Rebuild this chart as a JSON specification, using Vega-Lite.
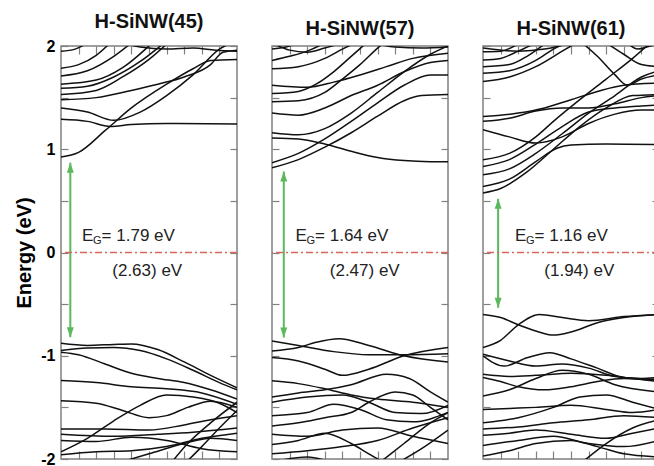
{
"$schema": "https://vega.github.io/schema/vega-lite/v6.json",
"background": "white",
"padding": {"left": 14, "top": 11, "right": 0, "bottom": 0},
"spacing": 31,
"datasets": {
"b": [
{"p":1,"n":"c1","k":0,"e":0.925},{"p":1,"n":"c1","k":0.1,"e":0.97},{"p":1,"n":"c1","k":0.25,"e":1.18},{"p":1,"n":"c1","k":0.4,"e":1.4},{"p":1,"n":"c1","k":0.6,"e":1.63},{"p":1,"n":"c1","k":0.75,"e":1.78},{"p":1,"n":"c1","k":0.85,"e":1.86},{"p":1,"n":"c1","k":1,"e":1.87},
{"p":1,"n":"c2","k":0,"e":1.29},{"p":1,"n":"c2","k":0.15,"e":1.27},{"p":1,"n":"c2","k":0.28,"e":1.22},{"p":1,"n":"c2","k":0.4,"e":1.24},{"p":1,"n":"c2","k":0.6,"e":1.25},{"p":1,"n":"c2","k":1,"e":1.245},
{"p":1,"n":"c3","k":0,"e":1.4},{"p":1,"n":"c3","k":0.15,"e":1.36},{"p":1,"n":"c3","k":0.3,"e":1.28},{"p":1,"n":"c3","k":0.45,"e":1.36},{"p":1,"n":"c3","k":0.6,"e":1.52},{"p":1,"n":"c3","k":0.75,"e":1.72},{"p":1,"n":"c3","k":0.9,"e":1.97},{"p":1,"n":"c3","k":1,"e":2.05},
{"p":1,"n":"c4","k":0,"e":1.48},{"p":1,"n":"c4","k":0.2,"e":1.5},{"p":1,"n":"c4","k":0.4,"e":1.57},{"p":1,"n":"c4","k":0.55,"e":1.63},{"p":1,"n":"c4","k":0.7,"e":1.7},{"p":1,"n":"c4","k":0.85,"e":1.82},{"p":1,"n":"c4","k":0.92,"e":1.94},{"p":1,"n":"c4","k":1,"e":1.96},
{"p":1,"n":"c5","k":0,"e":1.53},{"p":1,"n":"c5","k":0.2,"e":1.57},{"p":1,"n":"c5","k":0.35,"e":1.7},{"p":1,"n":"c5","k":0.5,"e":1.87},{"p":1,"n":"c5","k":0.62,"e":2.05},
{"p":1,"n":"c6","k":0,"e":1.59},{"p":1,"n":"c6","k":0.15,"e":1.61},{"p":1,"n":"c6","k":0.3,"e":1.7},{"p":1,"n":"c6","k":0.45,"e":1.85},{"p":1,"n":"c6","k":0.55,"e":1.98},{"p":1,"n":"c6","k":0.6,"e":2.05},
{"p":1,"n":"c7","k":0,"e":1.63},{"p":1,"n":"c7","k":0.2,"e":1.67},{"p":1,"n":"c7","k":0.35,"e":1.79},{"p":1,"n":"c7","k":0.48,"e":1.97},{"p":1,"n":"c7","k":0.53,"e":2.05},
{"p":1,"n":"c8","k":0,"e":1.71},{"p":1,"n":"c8","k":0.15,"e":1.76},{"p":1,"n":"c8","k":0.3,"e":1.9},{"p":1,"n":"c8","k":0.4,"e":2.03},
{"p":1,"n":"c9","k":0,"e":1.785},{"p":1,"n":"c9","k":0.1,"e":1.82},{"p":1,"n":"c9","k":0.2,"e":1.91},{"p":1,"n":"c9","k":0.28,"e":2.03},
{"p":1,"n":"c10","k":0,"e":1.95},{"p":1,"n":"c10","k":0.08,"e":1.97},{"p":1,"n":"c10","k":0.15,"e":2.03},
{"p":1,"n":"c11","k":0.3,"e":2.05},{"p":1,"n":"c11","k":0.45,"e":1.99},{"p":1,"n":"c11","k":0.6,"e":1.97},{"p":1,"n":"c11","k":0.75,"e":1.98},{"p":1,"n":"c11","k":0.88,"e":1.96},{"p":1,"n":"c11","k":1,"e":1.95},
{"p":1,"n":"v1","k":0,"e":-0.88},{"p":1,"n":"v1","k":0.15,"e":-0.9},{"p":1,"n":"v1","k":0.3,"e":-0.89},{"p":1,"n":"v1","k":0.4,"e":-0.885},{"p":1,"n":"v1","k":0.55,"e":-0.94},{"p":1,"n":"v1","k":0.7,"e":-1.06},{"p":1,"n":"v1","k":0.85,"e":-1.19},{"p":1,"n":"v1","k":1,"e":-1.31},
{"p":1,"n":"v2","k":0,"e":-0.95},{"p":1,"n":"v2","k":0.15,"e":-0.925},{"p":1,"n":"v2","k":0.3,"e":-0.92},{"p":1,"n":"v2","k":0.45,"e":-0.95},{"p":1,"n":"v2","k":0.6,"e":-1.03},{"p":1,"n":"v2","k":0.75,"e":-1.14},{"p":1,"n":"v2","k":0.9,"e":-1.26},{"p":1,"n":"v2","k":1,"e":-1.33},
{"p":1,"n":"v3","k":0,"e":-0.965},{"p":1,"n":"v3","k":0.1,"e":-0.99},{"p":1,"n":"v3","k":0.25,"e":-1.08},{"p":1,"n":"v3","k":0.4,"e":-1.17},{"p":1,"n":"v3","k":0.55,"e":-1.22},{"p":1,"n":"v3","k":0.7,"e":-1.26},{"p":1,"n":"v3","k":0.85,"e":-1.33},{"p":1,"n":"v3","k":1,"e":-1.42},
{"p":1,"n":"v4","k":0,"e":-1.24},{"p":1,"n":"v4","k":0.2,"e":-1.26},{"p":1,"n":"v4","k":0.4,"e":-1.3},{"p":1,"n":"v4","k":0.6,"e":-1.32},{"p":1,"n":"v4","k":0.8,"e":-1.36},{"p":1,"n":"v4","k":1,"e":-1.47},
{"p":1,"n":"v5","k":0,"e":-1.437},{"p":1,"n":"v5","k":0.2,"e":-1.46},{"p":1,"n":"v5","k":0.35,"e":-1.53},{"p":1,"n":"v5","k":0.5,"e":-1.6},{"p":1,"n":"v5","k":0.6,"e":-1.58},{"p":1,"n":"v5","k":0.72,"e":-1.5},{"p":1,"n":"v5","k":0.85,"e":-1.44},{"p":1,"n":"v5","k":1,"e":-1.5},
{"p":1,"n":"v6","k":0,"e":-1.93},{"p":1,"n":"v6","k":0.15,"e":-1.8},{"p":1,"n":"v6","k":0.3,"e":-1.63},{"p":1,"n":"v6","k":0.45,"e":-1.48},{"p":1,"n":"v6","k":0.6,"e":-1.38},{"p":1,"n":"v6","k":0.75,"e":-1.4},{"p":1,"n":"v6","k":0.9,"e":-1.46},{"p":1,"n":"v6","k":1,"e":-1.55},
{"p":1,"n":"v7","k":0,"e":-1.71},{"p":1,"n":"v7","k":0.25,"e":-1.71},{"p":1,"n":"v7","k":0.5,"e":-1.72},{"p":1,"n":"v7","k":0.7,"e":-1.67},{"p":1,"n":"v7","k":0.85,"e":-1.62},{"p":1,"n":"v7","k":1,"e":-1.58},
{"p":1,"n":"v8","k":0,"e":-1.76},{"p":1,"n":"v8","k":0.3,"e":-1.78},{"p":1,"n":"v8","k":0.55,"e":-1.76},{"p":1,"n":"v8","k":0.75,"e":-1.74},{"p":1,"n":"v8","k":1,"e":-1.7},
{"p":1,"n":"v9","k":0,"e":-1.82},{"p":1,"n":"v9","k":0.2,"e":-1.83},{"p":1,"n":"v9","k":0.4,"e":-1.79},{"p":1,"n":"v9","k":0.6,"e":-1.82},{"p":1,"n":"v9","k":0.8,"e":-1.9},{"p":1,"n":"v9","k":1,"e":-1.93},
{"p":1,"n":"v10","k":0,"e":-1.96},{"p":1,"n":"v10","k":0.2,"e":-1.93},{"p":1,"n":"v10","k":0.4,"e":-1.92},{"p":1,"n":"v10","k":0.6,"e":-1.88},{"p":1,"n":"v10","k":0.8,"e":-1.8},{"p":1,"n":"v10","k":1,"e":-1.75},
{"p":1,"n":"v11","k":0.62,"e":-2.05},{"p":1,"n":"v11","k":0.72,"e":-1.85},{"p":1,"n":"v11","k":0.85,"e":-1.65},{"p":1,"n":"v11","k":1,"e":-1.45},
{"p":1,"n":"v12","k":0.7,"e":-2.05},{"p":1,"n":"v12","k":0.8,"e":-1.88},{"p":1,"n":"v12","k":0.9,"e":-1.7},{"p":1,"n":"v12","k":1,"e":-1.53},
{"p":1,"n":"v13","k":0.3,"e":-2.05},{"p":1,"n":"v13","k":0.5,"e":-1.95},{"p":1,"n":"v13","k":0.7,"e":-1.85},{"p":1,"n":"v13","k":0.85,"e":-1.8},{"p":1,"n":"v13","k":1,"e":-1.82},

{"p":2,"n":"c1","k":0,"e":0.82},{"p":2,"n":"c1","k":0.15,"e":0.9},{"p":2,"n":"c1","k":0.3,"e":1.02},{"p":2,"n":"c1","k":0.45,"e":1.16},{"p":2,"n":"c1","k":0.6,"e":1.32},{"p":2,"n":"c1","k":0.75,"e":1.47},{"p":2,"n":"c1","k":0.85,"e":1.52},{"p":2,"n":"c1","k":1,"e":1.53},
{"p":2,"n":"c2","k":0,"e":0.87},{"p":2,"n":"c2","k":0.15,"e":0.96},{"p":2,"n":"c2","k":0.3,"e":1.1},{"p":2,"n":"c2","k":0.45,"e":1.27},{"p":2,"n":"c2","k":0.6,"e":1.45},{"p":2,"n":"c2","k":0.75,"e":1.62},{"p":2,"n":"c2","k":0.9,"e":1.72},{"p":2,"n":"c2","k":1,"e":1.72},
{"p":2,"n":"c3","k":0,"e":1.11},{"p":2,"n":"c3","k":0.15,"e":1.1},{"p":2,"n":"c3","k":0.3,"e":1.05},{"p":2,"n":"c3","k":0.45,"e":0.98},{"p":2,"n":"c3","k":0.6,"e":0.92},{"p":2,"n":"c3","k":0.75,"e":0.89},{"p":2,"n":"c3","k":0.9,"e":0.88},{"p":2,"n":"c3","k":1,"e":0.88},
{"p":2,"n":"c4","k":0,"e":1.16},{"p":2,"n":"c4","k":0.15,"e":1.14},{"p":2,"n":"c4","k":0.3,"e":1.2},{"p":2,"n":"c4","k":0.45,"e":1.35},{"p":2,"n":"c4","k":0.6,"e":1.55},{"p":2,"n":"c4","k":0.75,"e":1.75},{"p":2,"n":"c4","k":0.9,"e":1.92},{"p":2,"n":"c4","k":1,"e":2.0},
{"p":2,"n":"c5","k":0,"e":1.35},{"p":2,"n":"c5","k":0.15,"e":1.33},{"p":2,"n":"c5","k":0.3,"e":1.4},{"p":2,"n":"c5","k":0.45,"e":1.52},{"p":2,"n":"c5","k":0.6,"e":1.62},{"p":2,"n":"c5","k":0.75,"e":1.75},{"p":2,"n":"c5","k":0.9,"e":1.84},{"p":2,"n":"c5","k":1,"e":1.86},
{"p":2,"n":"c6","k":0,"e":1.46},{"p":2,"n":"c6","k":0.15,"e":1.47},{"p":2,"n":"c6","k":0.3,"e":1.55},{"p":2,"n":"c6","k":0.4,"e":1.68},{"p":2,"n":"c6","k":0.5,"e":1.82},{"p":2,"n":"c6","k":0.6,"e":1.98},{"p":2,"n":"c6","k":0.65,"e":2.05},
{"p":2,"n":"c7","k":0,"e":1.54},{"p":2,"n":"c7","k":0.15,"e":1.56},{"p":2,"n":"c7","k":0.25,"e":1.63},{"p":2,"n":"c7","k":0.35,"e":1.75},{"p":2,"n":"c7","k":0.45,"e":1.9},{"p":2,"n":"c7","k":0.55,"e":2.05},
{"p":2,"n":"c8","k":0,"e":1.62},{"p":2,"n":"c8","k":0.2,"e":1.6},{"p":2,"n":"c8","k":0.35,"e":1.65},{"p":2,"n":"c8","k":0.5,"e":1.72},{"p":2,"n":"c8","k":0.65,"e":1.8},{"p":2,"n":"c8","k":0.8,"e":1.88},{"p":2,"n":"c8","k":1,"e":1.93},
{"p":2,"n":"c9","k":0,"e":1.78},{"p":2,"n":"c9","k":0.15,"e":1.8},{"p":2,"n":"c9","k":0.3,"e":1.88},{"p":2,"n":"c9","k":0.4,"e":1.97},{"p":2,"n":"c9","k":0.5,"e":2.05},
{"p":2,"n":"c10","k":0,"e":1.86},{"p":2,"n":"c10","k":0.1,"e":1.9},{"p":2,"n":"c10","k":0.2,"e":1.95},{"p":2,"n":"c10","k":0.3,"e":2.03},
{"p":2,"n":"c11","k":0,"e":1.97},{"p":2,"n":"c11","k":0.08,"e":1.99},{"p":2,"n":"c11","k":0.15,"e":2.03},
{"p":2,"n":"c12","k":0,"e":2.03},{"p":2,"n":"c12","k":0.1,"e":1.96},{"p":2,"n":"c12","k":0.2,"e":1.94},{"p":2,"n":"c12","k":0.3,"e":1.98},{"p":2,"n":"c12","k":0.4,"e":2.03},
{"p":2,"n":"c13","k":0.55,"e":2.04},{"p":2,"n":"c13","k":0.7,"e":1.99},{"p":2,"n":"c13","k":0.85,"e":1.98},{"p":2,"n":"c13","k":1,"e":1.99},
{"p":2,"n":"v1","k":0,"e":-0.856},{"p":2,"n":"v1","k":0.15,"e":-0.9},{"p":2,"n":"v1","k":0.35,"e":-0.96},{"p":2,"n":"v1","k":0.55,"e":-0.99},{"p":2,"n":"v1","k":0.75,"e":-0.99},{"p":2,"n":"v1","k":1,"e":-0.98},
{"p":2,"n":"v2","k":0,"e":-0.953},{"p":2,"n":"v2","k":0.15,"e":-0.92},{"p":2,"n":"v2","k":0.25,"e":-0.87},{"p":2,"n":"v2","k":0.38,"e":-0.835},{"p":2,"n":"v2","k":0.55,"e":-0.9},{"p":2,"n":"v2","k":0.75,"e":-1.0},{"p":2,"n":"v2","k":1,"e":-1.06},
{"p":2,"n":"v3","k":0,"e":-1.017},{"p":2,"n":"v3","k":0.15,"e":-1.05},{"p":2,"n":"v3","k":0.3,"e":-1.13},{"p":2,"n":"v3","k":0.4,"e":-1.19},{"p":2,"n":"v3","k":0.55,"e":-1.13},{"p":2,"n":"v3","k":0.75,"e":-1.0},{"p":2,"n":"v3","k":1,"e":-0.92},
{"p":2,"n":"v4","k":0,"e":-1.243},{"p":2,"n":"v4","k":0.15,"e":-1.27},{"p":2,"n":"v4","k":0.3,"e":-1.32},{"p":2,"n":"v4","k":0.45,"e":-1.38},{"p":2,"n":"v4","k":0.6,"e":-1.42},{"p":2,"n":"v4","k":0.8,"e":-1.45},{"p":2,"n":"v4","k":1,"e":-1.5},
{"p":2,"n":"v5","k":0,"e":-1.4},{"p":2,"n":"v5","k":0.15,"e":-1.36},{"p":2,"n":"v5","k":0.3,"e":-1.33},{"p":2,"n":"v5","k":0.45,"e":-1.28},{"p":2,"n":"v5","k":0.65,"e":-1.18},{"p":2,"n":"v5","k":0.78,"e":-1.22},{"p":2,"n":"v5","k":0.9,"e":-1.35},{"p":2,"n":"v5","k":1,"e":-1.45},
{"p":2,"n":"v6","k":0,"e":-1.45},{"p":2,"n":"v6","k":0.2,"e":-1.4},{"p":2,"n":"v6","k":0.4,"e":-1.38},{"p":2,"n":"v6","k":0.55,"e":-1.45},{"p":2,"n":"v6","k":0.7,"e":-1.55},{"p":2,"n":"v6","k":0.85,"e":-1.56},{"p":2,"n":"v6","k":1,"e":-1.48},
{"p":2,"n":"v7","k":0,"e":-1.58},{"p":2,"n":"v7","k":0.2,"e":-1.55},{"p":2,"n":"v7","k":0.35,"e":-1.47},{"p":2,"n":"v7","k":0.5,"e":-1.52},{"p":2,"n":"v7","k":0.65,"e":-1.62},{"p":2,"n":"v7","k":0.8,"e":-1.64},{"p":2,"n":"v7","k":1,"e":-1.55},
{"p":2,"n":"v8","k":0,"e":-1.68},{"p":2,"n":"v8","k":0.15,"e":-1.65},{"p":2,"n":"v8","k":0.3,"e":-1.6},{"p":2,"n":"v8","k":0.45,"e":-1.55},{"p":2,"n":"v8","k":0.55,"e":-1.45},{"p":2,"n":"v8","k":0.7,"e":-1.35},{"p":2,"n":"v8","k":0.8,"e":-1.38},{"p":2,"n":"v8","k":0.9,"e":-1.5},{"p":2,"n":"v8","k":1,"e":-1.62},
{"p":2,"n":"v9","k":0,"e":-1.76},{"p":2,"n":"v9","k":0.2,"e":-1.78},{"p":2,"n":"v9","k":0.4,"e":-1.72},{"p":2,"n":"v9","k":0.6,"e":-1.7},{"p":2,"n":"v9","k":0.8,"e":-1.78},{"p":2,"n":"v9","k":1,"e":-1.85},
{"p":2,"n":"v10","k":0,"e":-1.86},{"p":2,"n":"v10","k":0.15,"e":-1.82},{"p":2,"n":"v10","k":0.3,"e":-1.75},{"p":2,"n":"v10","k":0.45,"e":-1.85},{"p":2,"n":"v10","k":0.55,"e":-1.95},{"p":2,"n":"v10","k":0.65,"e":-2.05},
{"p":2,"n":"v11","k":0,"e":-1.95},{"p":2,"n":"v11","k":0.2,"e":-1.92},{"p":2,"n":"v11","k":0.4,"e":-1.88},{"p":2,"n":"v11","k":0.6,"e":-1.82},{"p":2,"n":"v11","k":0.8,"e":-1.7},{"p":2,"n":"v11","k":1,"e":-1.6},
{"p":2,"n":"v12","k":0.6,"e":-2.05},{"p":2,"n":"v12","k":0.75,"e":-1.85},{"p":2,"n":"v12","k":0.9,"e":-1.65},{"p":2,"n":"v12","k":1,"e":-1.55},
{"p":2,"n":"v13","k":0.7,"e":-2.05},{"p":2,"n":"v13","k":0.85,"e":-1.9},{"p":2,"n":"v13","k":1,"e":-1.72},
{"p":2,"n":"v14","k":0,"e":-2.03},{"p":2,"n":"v14","k":0.2,"e":-1.98},{"p":2,"n":"v14","k":0.35,"e":-2.04},

{"p":3,"n":"c1","k":0,"e":0.577},{"p":3,"n":"c1","k":0.1,"e":0.62},{"p":3,"n":"c1","k":0.25,"e":0.78},{"p":3,"n":"c1","k":0.4,"e":1.0},{"p":3,"n":"c1","k":0.55,"e":1.22},{"p":3,"n":"c1","k":0.7,"e":1.4},{"p":3,"n":"c1","k":0.85,"e":1.52},{"p":3,"n":"c1","k":1,"e":1.53},
{"p":3,"n":"c2","k":0,"e":0.64},{"p":3,"n":"c2","k":0.15,"e":0.71},{"p":3,"n":"c2","k":0.3,"e":0.88},{"p":3,"n":"c2","k":0.42,"e":1.01},{"p":3,"n":"c2","k":0.5,"e":1.04},{"p":3,"n":"c2","k":0.7,"e":1.05},{"p":3,"n":"c2","k":1,"e":1.044},
{"p":3,"n":"c3","k":0,"e":0.753},{"p":3,"n":"c3","k":0.15,"e":0.81},{"p":3,"n":"c3","k":0.3,"e":0.96},{"p":3,"n":"c3","k":0.45,"e":1.15},{"p":3,"n":"c3","k":0.6,"e":1.35},{"p":3,"n":"c3","k":0.75,"e":1.52},{"p":3,"n":"c3","k":0.9,"e":1.7},{"p":3,"n":"c3","k":1,"e":1.76},
{"p":3,"n":"c4","k":0,"e":0.834},{"p":3,"n":"c4","k":0.15,"e":0.9},{"p":3,"n":"c4","k":0.3,"e":1.05},{"p":3,"n":"c4","k":0.45,"e":1.22},{"p":3,"n":"c4","k":0.6,"e":1.36},{"p":3,"n":"c4","k":0.75,"e":1.4},{"p":3,"n":"c4","k":0.9,"e":1.42},{"p":3,"n":"c4","k":1,"e":1.43},
{"p":3,"n":"c5","k":0,"e":0.898},{"p":3,"n":"c5","k":0.15,"e":0.96},{"p":3,"n":"c5","k":0.3,"e":1.12},{"p":3,"n":"c5","k":0.4,"e":1.27},{"p":3,"n":"c5","k":0.55,"e":1.48},{"p":3,"n":"c5","k":0.7,"e":1.68},{"p":3,"n":"c5","k":0.85,"e":1.88},{"p":3,"n":"c5","k":0.95,"e":2.03},
{"p":3,"n":"c6","k":0,"e":1.19},{"p":3,"n":"c6","k":0.15,"e":1.12},{"p":3,"n":"c6","k":0.3,"e":1.06},{"p":3,"n":"c6","k":0.45,"e":1.12},{"p":3,"n":"c6","k":0.6,"e":1.25},{"p":3,"n":"c6","k":0.75,"e":1.34},{"p":3,"n":"c6","k":0.9,"e":1.38},{"p":3,"n":"c6","k":1,"e":1.38},
{"p":3,"n":"c7","k":0,"e":1.27},{"p":3,"n":"c7","k":0.15,"e":1.3},{"p":3,"n":"c7","k":0.3,"e":1.37},{"p":3,"n":"c7","k":0.45,"e":1.4},{"p":3,"n":"c7","k":0.6,"e":1.4},{"p":3,"n":"c7","k":0.75,"e":1.44},{"p":3,"n":"c7","k":0.9,"e":1.5},{"p":3,"n":"c7","k":1,"e":1.52},
{"p":3,"n":"c8","k":0,"e":1.317},{"p":3,"n":"c8","k":0.2,"e":1.35},{"p":3,"n":"c8","k":0.35,"e":1.4},{"p":3,"n":"c8","k":0.5,"e":1.48},{"p":3,"n":"c8","k":0.65,"e":1.56},{"p":3,"n":"c8","k":0.8,"e":1.62},{"p":3,"n":"c8","k":1,"e":1.64},
{"p":3,"n":"c9","k":0,"e":1.655},{"p":3,"n":"c9","k":0.15,"e":1.7},{"p":3,"n":"c9","k":0.3,"e":1.8},{"p":3,"n":"c9","k":0.45,"e":1.95},{"p":3,"n":"c9","k":0.55,"e":2.05},
{"p":3,"n":"c10","k":0,"e":1.736},{"p":3,"n":"c10","k":0.15,"e":1.76},{"p":3,"n":"c10","k":0.3,"e":1.86},{"p":3,"n":"c10","k":0.4,"e":1.97},{"p":3,"n":"c10","k":0.5,"e":2.05},
{"p":3,"n":"c11","k":0,"e":1.8},{"p":3,"n":"c11","k":0.15,"e":1.82},{"p":3,"n":"c11","k":0.25,"e":1.9},{"p":3,"n":"c11","k":0.35,"e":2.02},
{"p":3,"n":"c12","k":0,"e":1.865},{"p":3,"n":"c12","k":0.1,"e":1.88},{"p":3,"n":"c12","k":0.2,"e":1.95},{"p":3,"n":"c12","k":0.3,"e":2.03},
{"p":3,"n":"c13","k":0,"e":1.945},{"p":3,"n":"c13","k":0.1,"e":1.95},{"p":3,"n":"c13","k":0.2,"e":2.02},
{"p":3,"n":"c14","k":0.55,"e":2.05},{"p":3,"n":"c14","k":0.65,"e":1.9},{"p":3,"n":"c14","k":0.75,"e":1.72},{"p":3,"n":"c14","k":0.82,"e":1.62},{"p":3,"n":"c14","k":0.9,"e":1.68},{"p":3,"n":"c14","k":1,"e":1.72},
{"p":3,"n":"c15","k":0.7,"e":2.03},{"p":3,"n":"c15","k":0.8,"e":1.92},{"p":3,"n":"c15","k":0.9,"e":1.82},{"p":3,"n":"c15","k":1,"e":1.8},
{"p":3,"n":"c16","k":0.82,"e":2.03},{"p":3,"n":"c16","k":0.88,"e":1.97},{"p":3,"n":"c16","k":0.95,"e":2.0},{"p":3,"n":"c16","k":1,"e":2.02},
{"p":3,"n":"c17","k":0,"e":1.98},{"p":3,"n":"c17","k":0.2,"e":1.95},{"p":3,"n":"c17","k":0.35,"e":1.97},{"p":3,"n":"c17","k":0.5,"e":2.03},
{"p":3,"n":"v1","k":0,"e":-0.6},{"p":3,"n":"v1","k":0.1,"e":-0.63},{"p":3,"n":"v1","k":0.2,"e":-0.7},{"p":3,"n":"v1","k":0.3,"e":-0.76},{"p":3,"n":"v1","k":0.4,"e":-0.8},{"p":3,"n":"v1","k":0.5,"e":-0.77},{"p":3,"n":"v1","k":0.65,"e":-0.68},{"p":3,"n":"v1","k":0.8,"e":-0.63},{"p":3,"n":"v1","k":1,"e":-0.6},
{"p":3,"n":"v2","k":0,"e":-0.92},{"p":3,"n":"v2","k":0.1,"e":-0.85},{"p":3,"n":"v2","k":0.2,"e":-0.7},{"p":3,"n":"v2","k":0.32,"e":-0.6},{"p":3,"n":"v2","k":0.45,"e":-0.63},{"p":3,"n":"v2","k":0.6,"e":-0.66},{"p":3,"n":"v2","k":0.8,"e":-0.62},{"p":3,"n":"v2","k":1,"e":-0.6},
{"p":3,"n":"v3","k":0,"e":-0.985},{"p":3,"n":"v3","k":0.15,"e":-1.05},{"p":3,"n":"v3","k":0.3,"e":-1.1},{"p":3,"n":"v3","k":0.45,"e":-1.08},{"p":3,"n":"v3","k":0.6,"e":-1.12},{"p":3,"n":"v3","k":0.75,"e":-1.2},{"p":3,"n":"v3","k":0.9,"e":-1.22},{"p":3,"n":"v3","k":1,"e":-1.21},
{"p":3,"n":"v4","k":0,"e":-1.0},{"p":3,"n":"v4","k":0.12,"e":-1.1},{"p":3,"n":"v4","k":0.25,"e":-1.02},{"p":3,"n":"v4","k":0.38,"e":-0.97},{"p":3,"n":"v4","k":0.5,"e":-1.03},{"p":3,"n":"v4","k":0.65,"e":-1.12},{"p":3,"n":"v4","k":0.8,"e":-1.21},{"p":3,"n":"v4","k":1,"e":-1.23},
{"p":3,"n":"v5","k":0,"e":-1.18},{"p":3,"n":"v5","k":0.15,"e":-1.2},{"p":3,"n":"v5","k":0.3,"e":-1.19},{"p":3,"n":"v5","k":0.5,"e":-1.17},{"p":3,"n":"v5","k":0.7,"e":-1.19},{"p":3,"n":"v5","k":0.85,"e":-1.22},{"p":3,"n":"v5","k":1,"e":-1.25},
{"p":3,"n":"v6","k":0,"e":-1.21},{"p":3,"n":"v6","k":0.1,"e":-1.25},{"p":3,"n":"v6","k":0.2,"e":-1.3},{"p":3,"n":"v6","k":0.35,"e":-1.33},{"p":3,"n":"v6","k":0.5,"e":-1.3},{"p":3,"n":"v6","k":0.65,"e":-1.25},{"p":3,"n":"v6","k":0.8,"e":-1.22},{"p":3,"n":"v6","k":1,"e":-1.24},
{"p":3,"n":"v7","k":0,"e":-1.39},{"p":3,"n":"v7","k":0.15,"e":-1.33},{"p":3,"n":"v7","k":0.3,"e":-1.22},{"p":3,"n":"v7","k":0.45,"e":-1.14},{"p":3,"n":"v7","k":0.6,"e":-1.18},{"p":3,"n":"v7","k":0.75,"e":-1.28},{"p":3,"n":"v7","k":1,"e":-1.35},
{"p":3,"n":"v8","k":0,"e":-1.52},{"p":3,"n":"v8","k":0.15,"e":-1.51},{"p":3,"n":"v8","k":0.3,"e":-1.5},{"p":3,"n":"v8","k":0.5,"e":-1.48},{"p":3,"n":"v8","k":0.7,"e":-1.52},{"p":3,"n":"v8","k":0.85,"e":-1.55},{"p":3,"n":"v8","k":1,"e":-1.52},
{"p":3,"n":"v9","k":0,"e":-1.65},{"p":3,"n":"v9","k":0.2,"e":-1.6},{"p":3,"n":"v9","k":0.4,"e":-1.5},{"p":3,"n":"v9","k":0.55,"e":-1.4},{"p":3,"n":"v9","k":0.7,"e":-1.38},{"p":3,"n":"v9","k":0.85,"e":-1.45},{"p":3,"n":"v9","k":1,"e":-1.52},
{"p":3,"n":"v10","k":0,"e":-1.71},{"p":3,"n":"v10","k":0.2,"e":-1.69},{"p":3,"n":"v10","k":0.4,"e":-1.65},{"p":3,"n":"v10","k":0.6,"e":-1.62},{"p":3,"n":"v10","k":0.8,"e":-1.58},{"p":3,"n":"v10","k":1,"e":-1.6},
{"p":3,"n":"v11","k":0,"e":-1.77},{"p":3,"n":"v11","k":0.15,"e":-1.75},{"p":3,"n":"v11","k":0.3,"e":-1.72},{"p":3,"n":"v11","k":0.5,"e":-1.76},{"p":3,"n":"v11","k":0.7,"e":-1.8},{"p":3,"n":"v11","k":0.85,"e":-1.75},{"p":3,"n":"v11","k":1,"e":-1.7},
{"p":3,"n":"v12","k":0,"e":-1.87},{"p":3,"n":"v12","k":0.2,"e":-1.82},{"p":3,"n":"v12","k":0.4,"e":-1.78},{"p":3,"n":"v12","k":0.6,"e":-1.85},{"p":3,"n":"v12","k":0.8,"e":-1.88},{"p":3,"n":"v12","k":1,"e":-1.82},
{"p":3,"n":"v13","k":0,"e":-1.97},{"p":3,"n":"v13","k":0.15,"e":-1.92},{"p":3,"n":"v13","k":0.3,"e":-1.85},{"p":3,"n":"v13","k":0.5,"e":-1.82},{"p":3,"n":"v13","k":0.65,"e":-1.88},{"p":3,"n":"v13","k":0.8,"e":-1.95},{"p":3,"n":"v13","k":1,"e":-1.98},
{"p":3,"n":"v14","k":0.55,"e":-2.05},{"p":3,"n":"v14","k":0.7,"e":-1.85},{"p":3,"n":"v14","k":0.85,"e":-1.7},{"p":3,"n":"v14","k":1,"e":-1.62}
],
"a": [
{"p":1,"ax":0.053,"at":0.87,"ab":-0.82,"tx":0.12,"ty":0.155,"eg":"= 1.79 eV","px":0.49,"py":-0.18,"pt":"(2.63) eV"},
{"p":2,"ax":0.067,"at":0.785,"ab":-0.824,"tx":0.134,"ty":0.155,"eg":"= 1.64 eV","px":0.527,"py":-0.18,"pt":"(2.47) eV"},
{"p":3,"ax":0.086,"at":0.52,"ab":-0.535,"tx":0.182,"ty":0.155,"eg":"= 1.16 eV","px":0.547,"py":-0.18,"pt":"(1.94) eV"}
]
},
"hconcat": [
{"width":176,"height":413,"title":"H-SiNW(45)",
 "layer":[
  {"data":{"name":"b"},"transform":[{"filter":"datum.p==1"}],
   "mark":{"type":"line","color":"#111111","strokeWidth":1.5,"interpolate":"monotone","clip":true},
   "encoding":{
    "x":{"field":"k","type":"quantitative","scale":{"domain":[0,1],"nice":false},"axis":{"orient":"bottom","values":[0.1,0.2,0.3,0.4,0.5,0.6,0.7,0.8,0.9],"labels":false,"tickSize":-8,"title":null}},
    "y":{"field":"e","type":"quantitative","scale":{"domain":[-2,2],"nice":false},"axis":{"orient":"left","values":[-2,-1.5,-1,-0.5,0,0.5,1,1.5,2],"labelExpr":"datum.value % 1 === 0 ? '' + datum.value : ''","labelFontSize":16,"labelFontWeight":"bold","tickSize":-7,"labelPadding":13,"title":"Energy (eV)","titleFontSize":20,"titleFontWeight":"bold","titlePadding":6,"titleColor":"black"}},
    "detail":{"field":"n"}}},
  {"data":{"name":"a"},"transform":[{"filter":"datum.p==1"}],
   "mark":{"type":"rule","color":"#5cb85c","strokeWidth":2},
   "encoding":{"x":{"field":"ax","type":"quantitative","axis":{"orient":"top","values":[0.1,0.2,0.3,0.4,0.5,0.6,0.7,0.8,0.9],"labels":false,"tickSize":-8,"title":null}},
    "y":{"field":"at","type":"quantitative","axis":{"orient":"right","values":[-2,-1.5,-1,-0.5,0,0.5,1,1.5,2],"labels":false,"tickSize":-7,"title":null}},"y2":{"field":"ab"}}},
  {"data":{"name":"a"},"transform":[{"filter":"datum.p==1"}],
   "mark":{"type":"point","shape":"M0,0L0.7,2L-0.7,2Z","size":100,"filled":true,"color":"#5cb85c","opacity":1},
   "encoding":{"x":{"field":"ax","type":"quantitative","axis":null},"y":{"field":"at","type":"quantitative","axis":null}}},
  {"data":{"name":"a"},"transform":[{"filter":"datum.p==1"}],
   "mark":{"type":"point","shape":"M0,0L0.7,-2L-0.7,-2Z","size":100,"filled":true,"color":"#5cb85c","opacity":1},
   "encoding":{"x":{"field":"ax","type":"quantitative","axis":null},"y":{"field":"ab","type":"quantitative","axis":null}}},
  {"data":{"values":[{}]},"mark":{"type":"rule","color":"#d9655c","strokeDash":[7,3,2,3],"strokeWidth":1.3},"encoding":{"y":{"datum":0,"type":"quantitative","axis":null}}},
  {"data":{"name":"a"},"transform":[{"filter":"datum.p==1"}],
   "mark":{"type":"text","align":"left","baseline":"middle","fontSize":17,"font":"Liberation Sans","color":"#222"},
   "encoding":{"x":{"field":"tx","type":"quantitative","axis":null},"y":{"field":"ty","type":"quantitative","axis":null},"text":{"value":"E"}}},
  {"data":{"name":"a"},"transform":[{"filter":"datum.p==1"}],
   "mark":{"type":"text","align":"left","baseline":"middle","fontSize":11,"font":"Liberation Sans","dx":11,"dy":5,"color":"#222"},
   "encoding":{"x":{"field":"tx","type":"quantitative","axis":null},"y":{"field":"ty","type":"quantitative","axis":null},"text":{"value":"G"}}},
  {"data":{"name":"a"},"transform":[{"filter":"datum.p==1"}],
   "mark":{"type":"text","align":"left","baseline":"middle","fontSize":17,"font":"Liberation Sans","dx":19.5,"color":"#222"},
   "encoding":{"x":{"field":"tx","type":"quantitative","axis":null},"y":{"field":"ty","type":"quantitative","axis":null},"text":{"field":"eg"}}},
  {"data":{"name":"a"},"transform":[{"filter":"datum.p==1"}],
   "mark":{"type":"text","align":"center","baseline":"middle","fontSize":17,"font":"Liberation Sans","color":"#222"},
   "encoding":{"x":{"field":"px","type":"quantitative","axis":null},"y":{"field":"py","type":"quantitative","axis":null},"text":{"field":"pt"}}}
 ]},
{"width":176,"height":413,"title":"H-SiNW(57)",
 "layer":[
  {"data":{"name":"b"},"transform":[{"filter":"datum.p==2"}],
   "mark":{"type":"line","color":"#111111","strokeWidth":1.5,"interpolate":"monotone","clip":true},
   "encoding":{
    "x":{"field":"k","type":"quantitative","scale":{"domain":[0,1],"nice":false},"axis":{"orient":"bottom","values":[0.1,0.2,0.3,0.4,0.5,0.6,0.7,0.8,0.9],"labels":false,"tickSize":-8,"title":null}},
    "y":{"field":"e","type":"quantitative","scale":{"domain":[-2,2],"nice":false},"axis":{"orient":"left","values":[-2,-1.5,-1,-0.5,0,0.5,1,1.5,2],"labels":false,"tickSize":-7,"title":null}},
    "detail":{"field":"n"}}},
  {"data":{"name":"a"},"transform":[{"filter":"datum.p==2"}],
   "mark":{"type":"rule","color":"#5cb85c","strokeWidth":2},
   "encoding":{"x":{"field":"ax","type":"quantitative","axis":{"orient":"top","values":[0.1,0.2,0.3,0.4,0.5,0.6,0.7,0.8,0.9],"labels":false,"tickSize":-8,"title":null}},
    "y":{"field":"at","type":"quantitative","axis":{"orient":"right","values":[-2,-1.5,-1,-0.5,0,0.5,1,1.5,2],"labels":false,"tickSize":-7,"title":null}},"y2":{"field":"ab"}}},
  {"data":{"name":"a"},"transform":[{"filter":"datum.p==2"}],
   "mark":{"type":"point","shape":"M0,0L0.7,2L-0.7,2Z","size":100,"filled":true,"color":"#5cb85c","opacity":1},
   "encoding":{"x":{"field":"ax","type":"quantitative","axis":null},"y":{"field":"at","type":"quantitative","axis":null}}},
  {"data":{"name":"a"},"transform":[{"filter":"datum.p==2"}],
   "mark":{"type":"point","shape":"M0,0L0.7,-2L-0.7,-2Z","size":100,"filled":true,"color":"#5cb85c","opacity":1},
   "encoding":{"x":{"field":"ax","type":"quantitative","axis":null},"y":{"field":"ab","type":"quantitative","axis":null}}},
  {"data":{"values":[{}]},"mark":{"type":"rule","color":"#d9655c","strokeDash":[7,3,2,3],"strokeWidth":1.3},"encoding":{"y":{"datum":0,"type":"quantitative","axis":null}}},
  {"data":{"name":"a"},"transform":[{"filter":"datum.p==2"}],
   "mark":{"type":"text","align":"left","baseline":"middle","fontSize":17,"font":"Liberation Sans","color":"#222"},
   "encoding":{"x":{"field":"tx","type":"quantitative","axis":null},"y":{"field":"ty","type":"quantitative","axis":null},"text":{"value":"E"}}},
  {"data":{"name":"a"},"transform":[{"filter":"datum.p==2"}],
   "mark":{"type":"text","align":"left","baseline":"middle","fontSize":11,"font":"Liberation Sans","dx":11,"dy":5,"color":"#222"},
   "encoding":{"x":{"field":"tx","type":"quantitative","axis":null},"y":{"field":"ty","type":"quantitative","axis":null},"text":{"value":"G"}}},
  {"data":{"name":"a"},"transform":[{"filter":"datum.p==2"}],
   "mark":{"type":"text","align":"left","baseline":"middle","fontSize":17,"font":"Liberation Sans","dx":19.5,"color":"#222"},
   "encoding":{"x":{"field":"tx","type":"quantitative","axis":null},"y":{"field":"ty","type":"quantitative","axis":null},"text":{"field":"eg"}}},
  {"data":{"name":"a"},"transform":[{"filter":"datum.p==2"}],
   "mark":{"type":"text","align":"center","baseline":"middle","fontSize":17,"font":"Liberation Sans","color":"#222"},
   "encoding":{"x":{"field":"px","type":"quantitative","axis":null},"y":{"field":"py","type":"quantitative","axis":null},"text":{"field":"pt"}}}
 ]},
{"width":176,"height":413,"title":"H-SiNW(61)",
 "layer":[
  {"data":{"name":"b"},"transform":[{"filter":"datum.p==3"}],
   "mark":{"type":"line","color":"#111111","strokeWidth":1.5,"interpolate":"monotone","clip":true},
   "encoding":{
    "x":{"field":"k","type":"quantitative","scale":{"domain":[0,1],"nice":false},"axis":{"orient":"bottom","values":[0.1,0.2,0.3,0.4,0.5,0.6,0.7,0.8,0.9],"labels":false,"tickSize":-8,"title":null}},
    "y":{"field":"e","type":"quantitative","scale":{"domain":[-2,2],"nice":false},"axis":{"orient":"left","values":[-2,-1.5,-1,-0.5,0,0.5,1,1.5,2],"labels":false,"tickSize":-7,"title":null}},
    "detail":{"field":"n"}}},
  {"data":{"name":"a"},"transform":[{"filter":"datum.p==3"}],
   "mark":{"type":"rule","color":"#5cb85c","strokeWidth":2},
   "encoding":{"x":{"field":"ax","type":"quantitative","axis":{"orient":"top","values":[0.1,0.2,0.3,0.4,0.5,0.6,0.7,0.8,0.9],"labels":false,"tickSize":-8,"title":null}},
    "y":{"field":"at","type":"quantitative","axis":{"orient":"right","values":[-2,-1.5,-1,-0.5,0,0.5,1,1.5,2],"labels":false,"tickSize":-7,"title":null}},"y2":{"field":"ab"}}},
  {"data":{"name":"a"},"transform":[{"filter":"datum.p==3"}],
   "mark":{"type":"point","shape":"M0,0L0.7,2L-0.7,2Z","size":100,"filled":true,"color":"#5cb85c","opacity":1},
   "encoding":{"x":{"field":"ax","type":"quantitative","axis":null},"y":{"field":"at","type":"quantitative","axis":null}}},
  {"data":{"name":"a"},"transform":[{"filter":"datum.p==3"}],
   "mark":{"type":"point","shape":"M0,0L0.7,-2L-0.7,-2Z","size":100,"filled":true,"color":"#5cb85c","opacity":1},
   "encoding":{"x":{"field":"ax","type":"quantitative","axis":null},"y":{"field":"ab","type":"quantitative","axis":null}}},
  {"data":{"values":[{}]},"mark":{"type":"rule","color":"#d9655c","strokeDash":[7,3,2,3],"strokeWidth":1.3},"encoding":{"y":{"datum":0,"type":"quantitative","axis":null}}},
  {"data":{"name":"a"},"transform":[{"filter":"datum.p==3"}],
   "mark":{"type":"text","align":"left","baseline":"middle","fontSize":17,"font":"Liberation Sans","color":"#222"},
   "encoding":{"x":{"field":"tx","type":"quantitative","axis":null},"y":{"field":"ty","type":"quantitative","axis":null},"text":{"value":"E"}}},
  {"data":{"name":"a"},"transform":[{"filter":"datum.p==3"}],
   "mark":{"type":"text","align":"left","baseline":"middle","fontSize":11,"font":"Liberation Sans","dx":11,"dy":5,"color":"#222"},
   "encoding":{"x":{"field":"tx","type":"quantitative","axis":null},"y":{"field":"ty","type":"quantitative","axis":null},"text":{"value":"G"}}},
  {"data":{"name":"a"},"transform":[{"filter":"datum.p==3"}],
   "mark":{"type":"text","align":"left","baseline":"middle","fontSize":17,"font":"Liberation Sans","dx":19.5,"color":"#222"},
   "encoding":{"x":{"field":"tx","type":"quantitative","axis":null},"y":{"field":"ty","type":"quantitative","axis":null},"text":{"field":"eg"}}},
  {"data":{"name":"a"},"transform":[{"filter":"datum.p==3"}],
   "mark":{"type":"text","align":"center","baseline":"middle","fontSize":17,"font":"Liberation Sans","color":"#222"},
   "encoding":{"x":{"field":"px","type":"quantitative","axis":null},"y":{"field":"py","type":"quantitative","axis":null},"text":{"field":"pt"}}}
 ]}
],
"config": {
 "font": "Liberation Sans",
 "view": {"stroke": "#808080", "strokeWidth": 1.5},
 "axis": {"domain": false, "grid": false, "tickColor": "#808080", "tickWidth": 1.2, "labelColor": "black", "labelFont": "Liberation Sans", "titleFont": "Liberation Sans"},
 "title": {"font": "Liberation Sans", "fontSize": 20, "fontWeight": "bold", "color": "#111", "offset": 6}
}
}
